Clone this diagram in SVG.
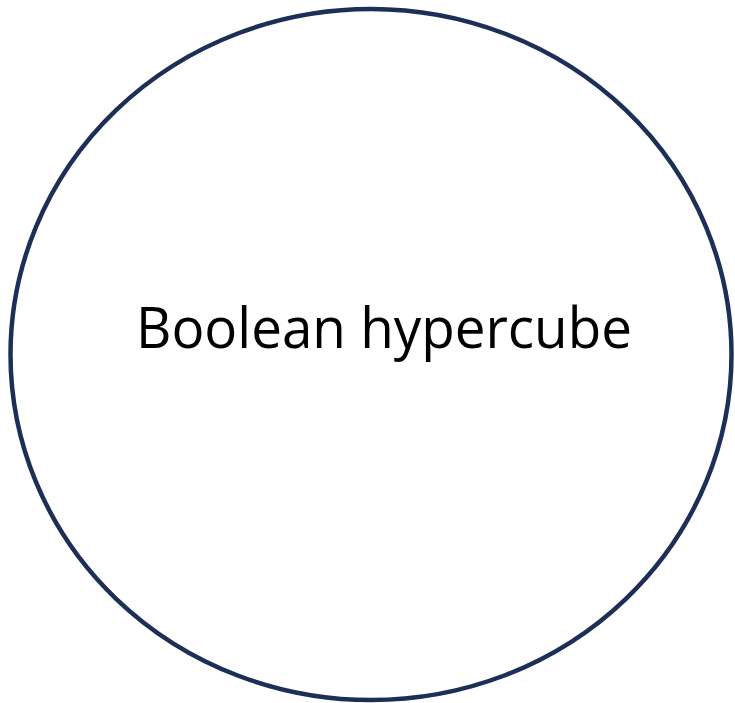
<svg xmlns="http://www.w3.org/2000/svg" width="735" height="703" viewBox="0 0 735 703">
<style>
.node-shape{fill:#ffffff;stroke:#1b2f57;stroke-width:4.5}
.label{font-family:"Open Sans","Liberation Sans",sans-serif;font-size:56px;fill:#000000}
</style>
<rect width="735" height="703" fill="#ffffff"/>
<g id="connectors"></g>
<g id="node-boolean-hypercube">
<ellipse class="node-shape" cx="371" cy="354.5" rx="360.5" ry="345.5"/>
<text class="label" x="136" y="348" textLength="496" lengthAdjust="spacingAndGlyphs">Boolean hypercube</text>
</g>
</svg>
